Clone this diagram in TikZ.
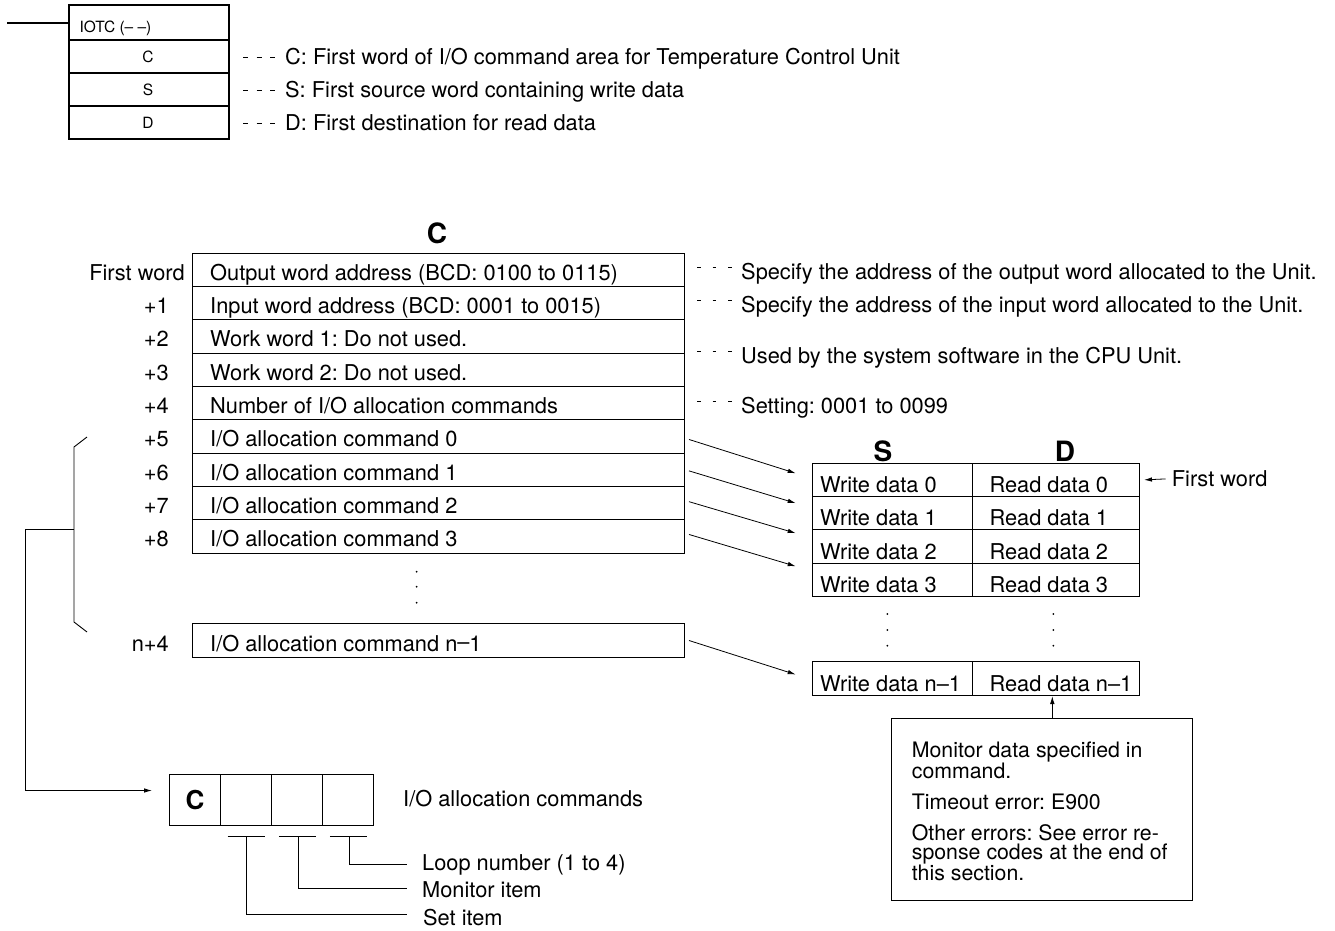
\documentclass[tikz,border=0pt]{standalone}
\usepackage{fontspec}
\setmainfont{TeX Gyre Heros}
\usetikzlibrary{arrows.meta,calc}
\begin{document}
\frenchspacing
\begin{tikzpicture}[x=1pt,y=-1pt,
  every node/.style={inner sep=0pt, text=black},
  mainfont/.style={font=\fontsize{21.8}{24}\selectfont},
  smallfont/.style={font=\fontsize{15.5}{18}\selectfont},
  headfont/.style={font=\fontsize{28}{30}\bfseries\selectfont},
  txt/.style={mainfont, anchor=base west},
  lbl/.style={mainfont, anchor=base east},
  topcell/.style={draw, line width=1.8pt, minimum width=160pt, anchor=north west},
  crow/.style={draw, line width=1pt, minimum width=492pt, minimum height=33.33pt, anchor=north west},
  wcell/.style={draw, line width=1pt, minimum width=160pt, minimum height=33.33pt, anchor=north west},
  rcell/.style={draw, line width=1pt, minimum width=167.3pt, minimum height=33.33pt, anchor=north west},
  ccell/.style={draw, line width=1pt, minimum width=51.1pt, minimum height=51pt, anchor=north west},
  lead/.style={line width=0.7pt, dash pattern=on 3.5pt off 12pt},
  toplead/.style={line width=0.8pt, dash pattern=on 5pt off 8.5pt},
  arr/.style={line width=0.8pt, -{Latex[length=8pt,width=4.5pt]}},
  conn/.style={line width=0.9pt},
  dotmark/.style={fill=black, draw=none}
]
\useasboundingbox (0,0) rectangle (1335,931);

% ---------------- top instruction block ----------------
\node[topcell, minimum height=35pt] (b0) at (68,4) {};
\node[topcell, minimum height=33pt] (b1) at (68,39) {};
\node[topcell, minimum height=33pt] (b2) at (68,72) {};
\node[topcell, minimum height=33pt] (b3) at (68,105) {};
\coordinate (in) at (7.3,22.7);
\draw[line width=1.8pt] (in) -- (in -| b0.west);
\node[smallfont, anchor=base west] (iotc) at (79.3,32.5) {IOTC (– –)};
\node[smallfont] (bc) at (148,57.3) {C};
\node[smallfont] (bs) at (148,90) {S};
\node[smallfont] (bd) at (148,123.3) {D};
\node[txt] (dc) at (285,65) {C: First word of I/O command area for Temperature Control Unit};
\node[txt] (ds) at (285,97.7) {S: First source word containing write data};
\node[txt] (dd) at (285,131) {D: First destination for read data};
\draw[toplead] (243,57.3) -- (276,57.3);
\draw[toplead] (243,90) -- (276,90);
\draw[toplead] (243,123.3) -- (276,123.3);

% ---------------- C area table ----------------
\node[headfont] (hc) at (437,233) {C};
\node[crow] (r0) at (192,252.7) {};
\node[crow] (r1) at (192,286.0) {};
\node[crow] (r2) at (192,319.3) {};
\node[crow] (r3) at (192,352.7) {};
\node[crow] (r4) at (192,386.0) {};
\node[crow] (r5) at (192,419.3) {};
\node[crow] (r6) at (192,452.7) {};
\node[crow] (r7) at (192,486.0) {};
\node[crow] (r8) at (192,519.3) {};
\node[crow, minimum height=34pt] (rn) at (192,623) {};

\node[txt] (t0) at (210,280) {Output word address (BCD: 0100 to 0115)};
\node[txt] (t1) at (210,313.3) {Input word address (BCD: 0001 to 0015)};
\node[txt] (t2) at (210,346.7) {Work word 1: Do not used.};
\node[txt] (t3) at (210,380) {Work word 2: Do not used.};
\node[txt] (t4) at (210,413.3) {Number of I/O allocation commands};
\node[txt] (t5) at (210,446.7) {I/O allocation command 0};
\node[txt] (t6) at (210,480) {I/O allocation command 1};
\node[txt] (t7) at (210,513.3) {I/O allocation command 2};
\node[txt] (t8) at (210,546.7) {I/O allocation command 3};
\node[txt] (tn) at (210,651) {I/O allocation command n\raisebox{0.1ex}{–}1};

\node[lbl] (l0) at (185,280) {First word};
\node[lbl] (l1) at (169,313.3) {+1};
\node[lbl] (l2) at (169,346.7) {+2};
\node[lbl] (l3) at (169,380) {+3};
\node[lbl] (l4) at (169,413.3) {+4};
\node[lbl] (l5) at (169,446.7) {+5};
\node[lbl] (l6) at (169,480) {+6};
\node[lbl] (l7) at (169,513.3) {+7};
\node[lbl] (l8) at (169,546.7) {+8};
\node[lbl] (ln) at (169,651) {n+4};

\foreach \yy in {571.7,586.7,602.7} {\fill[dotmark] (416.7,\yy) circle (1pt);}

% explanations on the right of C table
\node[txt] (e0) at (741,279.5) {Specify the address of the output word allocated to the Unit.};
\node[txt] (e1) at (741,312.7) {Specify the address of the input word allocated to the Unit.};
\node[txt] (e2) at (741,363) {Used by the system software in the CPU Unit.};
\node[txt] (e3) at (741,413) {Setting: 0001 to 0099};
\draw[lead] (697,267.5) -- (733,267.5);
\draw[lead] (697,300.7) -- (733,300.7);
\draw[lead] (697,351) -- (733,351);
\draw[lead] (697,401) -- (733,401);

% ---------------- S / D table ----------------
\node[headfont] (hs) at (883,451.7) {S};
\node[headfont] (hd) at (1065,451.7) {D};
\node[wcell] (w0) at (811.7,462.7) {};
\node[wcell] (w1) at (811.7,496.0) {};
\node[wcell] (w2) at (811.7,529.3) {};
\node[wcell] (w3) at (811.7,562.7) {};
\node[wcell, minimum height=34pt] (wn) at (811.7,661) {};
\node[rcell] (rd0) at (971.7,462.7) {};
\node[rcell] (rd1) at (971.7,496.0) {};
\node[rcell] (rd2) at (971.7,529.3) {};
\node[rcell] (rd3) at (971.7,562.7) {};
\node[rcell, minimum height=34pt] (rdn) at (971.7,661) {};

\node[txt] at (820,492.5) {Write data 0};
\node[txt] at (820,525.8) {Write data 1};
\node[txt] at (820,559.2) {Write data 2};
\node[txt] at (820,592.5) {Write data 3};
\node[txt] at (820,691) {Write data n–1};
\node[txt] at (989.3,492.5) {Read data 0};
\node[txt] at (989.3,525.8) {Read data 1};
\node[txt] at (989.3,559.2) {Read data 2};
\node[txt] at (989.3,592.5) {Read data 3};
\node[txt] at (989.3,691) {Read data n–1};

\foreach \yy in {614,630,645.7} {
  \fill[dotmark] (887.3,\yy) circle (1pt);
  \fill[dotmark] (1053.3,\yy) circle (1pt);
}

\node[txt] (fw) at (1171.7,486.7) {First word};
\draw[arr] ([xshift=-6pt]fw.west) -- ([xshift=4pt]rd0.east);

% arrows from commands to data
\draw[arr] ([xshift=4pt,yshift=-3pt]r5.east) -- ([xshift=-16pt,yshift=6.6pt]w0.west);
\draw[arr] ([xshift=4pt,yshift=-1pt]r6.east) -- ([xshift=-16pt,yshift=10pt]w1.west);
\draw[arr] ([xshift=4pt,yshift=1.5pt]r7.east) -- ([xshift=-16pt,yshift=13.3pt]w2.west);
\draw[arr] ([xshift=4pt,yshift=2pt]r8.east) -- ([xshift=-16pt,yshift=13.6pt]w3.west);
\draw[arr] ([xshift=4pt,yshift=0pt]rn.east) -- ([xshift=-16pt,yshift=4pt]wn.west);

% ---------------- monitor note ----------------
\node[draw, line width=1pt, minimum width=301pt, minimum height=182pt, anchor=north west] (mon) at (891,718) {};
\node[anchor=north west, align=left, font=\fontsize{21.3}{19}\selectfont] (mtxt) at (911.7,741.5)
  {Monitor data specified in\\command.\\[12pt]Timeout error: E900\\[12pt]Other errors: See error re-\\sponse codes at the end of\\this section.};
\coordinate (ma) at ($(mon.north west)+(161.3,0)$);
\draw[arr] (ma) -- (ma |- rdn.south);

% ---------------- bracket and I/O allocation command format ----------------
\coordinate (bm) at (74,529);
\draw[conn] (87,437) -- (74,447) -- (74,622) -- (87,632);

\node[ccell] (c0) at (169,774) {};
\node[ccell] (c1) at (220.1,774) {};
\node[ccell] (c2) at (271.2,774) {};
\node[ccell] (c3) at (322.3,774) {};
\node[font=\fontsize{26}{28}\bfseries\selectfont] at (c0.center) {C};
\node[txt] (ioc) at (403,806) {I/O allocation commands};

\draw[arr] (bm) -- (25,529) |- ([xshift=-17pt,yshift=9.5pt]c0.west);

\foreach \c in {c1,c2,c3} {
  \draw[conn] ($(\c.south)+(-18.5,10)$) -- ($(\c.south)+(18.5,10)$);
}
\coordinate (e3end) at (406.7,864);
\coordinate (e2end) at (406.7,888);
\coordinate (e1end) at (406.7,914);
\draw[conn] ($(c3.south)+(1.5,10)$) |- (e3end);
\draw[conn] ($(c2.south)+(1.5,10)$) |- (e2end);
\draw[conn] ($(c1.south)+(0,10)$) |- (e1end);
\node[txt] (loop) at (422,870) {Loop number (1 to 4)};
\node[txt] (moni) at (422,897) {Monitor item};
\node[txt] (seti) at (423,925.5) {Set item};
\end{tikzpicture}
\end{document}
